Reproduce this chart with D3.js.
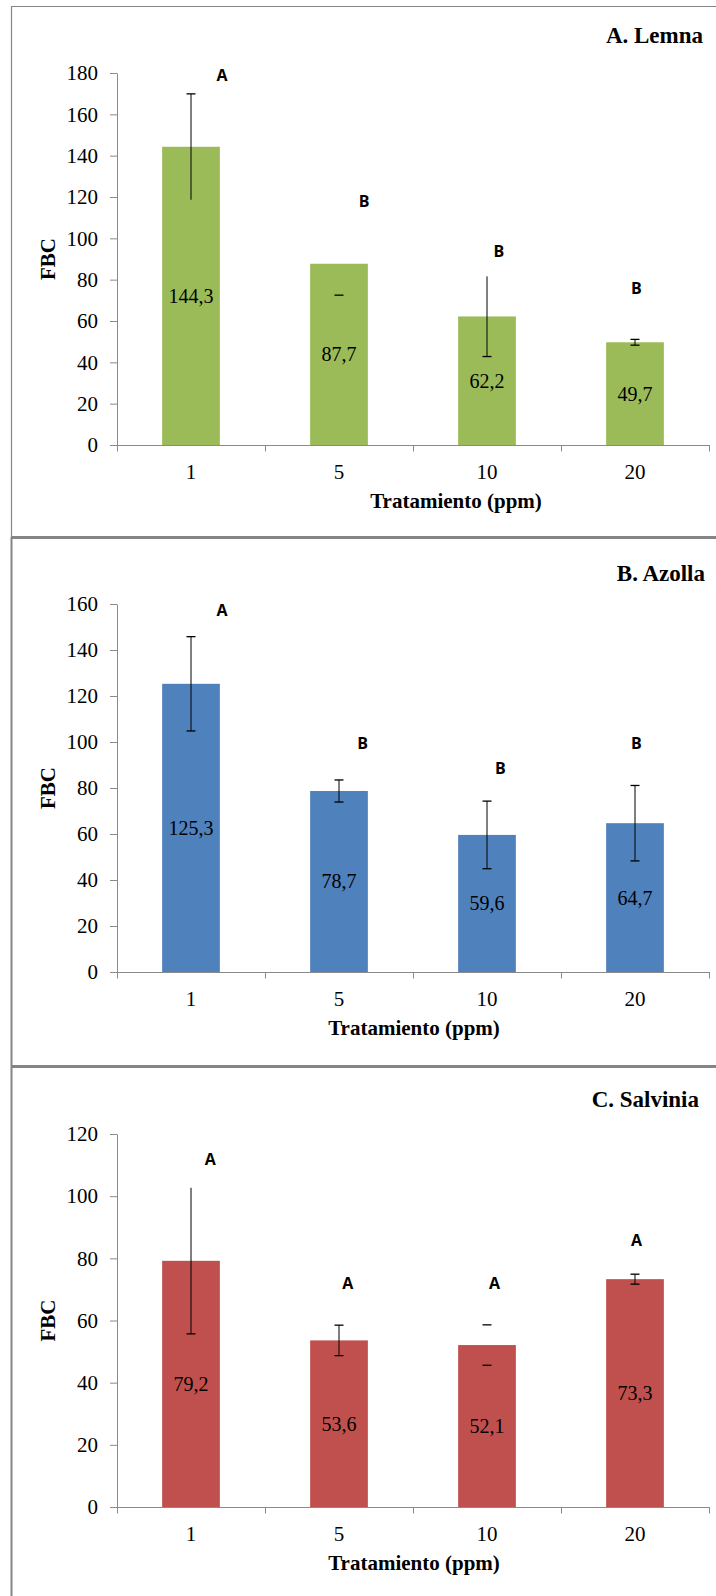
<!DOCTYPE html>
<html lang="es">
<head>
<meta charset="utf-8">
<title>FBC por tratamiento</title>
<style>
  body { margin: 0; background: #fff; }
  svg { display: block; }
</style>
<script src="https://cdn.jsdelivr.net/npm/d3@7"></script>
</head>
<body>
<svg id="fig" width="716" height="1596"></svg>
<script>
// data
var treatments = ["1", "5", "10", "20"];

var lemnaValues = [144.3, 87.7, 62.2, 49.7];
var lemnaErrors = [25.6, 15.2, 19.4, 1.4];
var lemnaLetters = ["A", "B", "B", "B"];
var lemnaTicks = [0, 20, 40, 60, 80, 100, 120, 140, 160, 180];

var azollaValues = [125.3, 78.7, 59.6, 64.7];
var azollaErrors = [20.5, 4.8, 14.7, 16.4];
var azollaLetters = ["A", "B", "B", "B"];
var azollaTicks = [0, 20, 40, 60, 80, 100, 120, 140, 160];

var salviniaValues = [79.2, 53.6, 52.1, 73.3];
var salviniaErrors = [23.5, 4.9, 6.5, 1.6];
var salviniaLetters = ["A", "A", "A", "A"];
var salviniaTicks = [0, 20, 40, 60, 80, 100, 120];

// height (in FBC units) where each significance letter sits
var lemnaLetterLevel = [176, 115, 91, 73];
var azollaLetterLevel = [155, 97, 86, 97];
var salviniaLetterLevel = [110, 70, 70, 84];

// which parts of each error bar show in the original: s = stem, t = top cap, b = bottom cap
var lemnaErrParts = ["st", "b", "sb", "stb"];
var azollaErrParts = ["stb", "stb", "stb", "stb"];
var salviniaErrParts = ["sb", "stb", "tb", "stb"];

var SERIF = '"Liberation Serif", "Times New Roman", Times, serif';
var SANS = '"Open Sans", "Noto Sans", sans-serif';

// panel layout
var panels = [
  { title: "A. Lemna", values: lemnaValues, errors: lemnaErrors, letters: lemnaLetters, ticks: lemnaTicks,
    levels: lemnaLetterLevel, parts: lemnaErrParts, letterShift: [0.21, 0.17, 0.08, 0.01],
    color: "#9bbb59", top: 73, bottom: 445, titleX: 703, titleY: 43, xTitleX: 456 },
  { title: "B. Azolla", values: azollaValues, errors: azollaErrors, letters: azollaLetters, ticks: azollaTicks,
    levels: azollaLetterLevel, parts: azollaErrParts, letterShift: [0.21, 0.16, 0.09, 0.01],
    color: "#4f81bd", top: 604, bottom: 972, titleX: 705, titleY: 581, xTitleX: 414 },
  { title: "C. Salvinia", values: salviniaValues, errors: salviniaErrors, letters: salviniaLetters, ticks: salviniaTicks,
    levels: salviniaLetterLevel, parts: salviniaErrParts, letterShift: [0.13, 0.06, 0.05, 0.01],
    color: "#c0504d", top: 1134, bottom: 1507, titleX: 699, titleY: 1107, xTitleX: 414 }
];

var svg = d3.select("#fig");
var frame = "#858585";

// frames around the three pictures
svg.append("line").attr("x1", 11).attr("x2", 716).attr("y1", 6.5).attr("y2", 6.5)
  .attr("stroke", frame).attr("stroke-width", 1.2);
svg.append("line").attr("x1", 11.5).attr("x2", 11.5).attr("y1", 6).attr("y2", 537)
  .attr("stroke", frame).attr("stroke-width", 1.2);
svg.append("line").attr("x1", 11.5).attr("x2", 11.5).attr("y1", 537).attr("y2", 1596)
  .attr("stroke", frame).attr("stroke-width", 2);
svg.append("line").attr("x1", 11).attr("x2", 716).attr("y1", 537.5).attr("y2", 537.5)
  .attr("stroke", frame).attr("stroke-width", 3);
svg.append("line").attr("x1", 11).attr("x2", 716).attr("y1", 1066.5).attr("y2", 1066.5)
  .attr("stroke", frame).attr("stroke-width", 3);

var x = d3.scaleBand().domain(treatments).range([117, 709]).padding(0);
var barW = x.bandwidth() * 0.39;

panels.forEach(function(p) {
  var y = d3.scaleLinear()
    .domain([0, d3.max(p.ticks)])
    .range([p.bottom, p.top]);

  var g = svg.append("g");

  // y axis
  var ya = g.append("g")
    .attr("transform", "translate(117,0)")
    .call(d3.axisLeft(y).tickValues(p.ticks).tickSize(7).tickSizeOuter(0).tickPadding(12));
  ya.selectAll("path, line").attr("stroke", "#8a8a8a");
  ya.selectAll("text").style("font-family", SERIF).style("font-size", "21px").attr("fill", "#000");

  // bars
  g.selectAll("rect.bar")
    .data(p.values)
    .enter().append("rect")
      .attr("class", "bar")
      .attr("x", function(d, i) { return x(treatments[i]) + (x.bandwidth() - barW) / 2; })
      .attr("width", barW)
      .attr("y", function(d) { return y(d); })
      .attr("height", function(d) { return y(0) - y(d); })
      .attr("fill", p.color);

  // x axis: baseline + band boundary ticks
  var xb = d3.scaleLinear().domain([0, treatments.length]).range([117, 709]);
  var xa = g.append("g")
    .attr("transform", "translate(0," + p.bottom + ")")
    .call(d3.axisBottom(xb).ticks(treatments.length).tickFormat("").tickSize(6.5).tickSizeOuter(0));
  xa.selectAll("path, line").attr("stroke", "#8a8a8a");
  g.append("line").attr("x1", 110).attr("x2", 117).attr("y1", p.bottom + 0.5).attr("y2", p.bottom + 0.5)
    .attr("stroke", "#8a8a8a");

  var xl = g.append("g")
    .attr("transform", "translate(0," + p.bottom + ")")
    .call(d3.axisBottom(x).tickSize(0).tickPadding(19));
  xl.select(".domain").remove();
  xl.selectAll("text").style("font-family", SERIF).style("font-size", "21px").attr("fill", "#000");

  // error bars
  p.values.forEach(function(v, i) {
    var cx = x(treatments[i]) + x.bandwidth() / 2;
    var hi = y(v + p.errors[i]), lo = y(v - p.errors[i]);
    var parts = p.parts[i];
    if (parts.indexOf("s") >= 0) {
      g.append("line").attr("x1", cx).attr("x2", cx).attr("y1", hi).attr("y2", lo)
        .attr("stroke", "#000").attr("stroke-width", 1);
    }
    if (parts.indexOf("t") >= 0) {
      g.append("line").attr("x1", cx - 4.5).attr("x2", cx + 4.5).attr("y1", hi).attr("y2", hi)
        .attr("stroke", "#000").attr("stroke-width", 1.3);
    }
    if (parts.indexOf("b") >= 0) {
      g.append("line").attr("x1", cx - 4.5).attr("x2", cx + 4.5).attr("y1", lo).attr("y2", lo)
        .attr("stroke", "#000").attr("stroke-width", 1.3);
    }
  });

  // value labels in the middle of the bars
  g.selectAll("text.vlabel")
    .data(p.values)
    .enter().append("text")
      .attr("class", "vlabel")
      .attr("x", function(d, i) { return x(treatments[i]) + x.bandwidth() / 2; })
      .attr("y", function(d) { return y(d / 2); })
      .attr("dy", "0.35em")
      .attr("text-anchor", "middle")
      .style("font-family", SERIF)
      .style("font-size", "20px")
      .text(function(d) { return d.toFixed(1).replace(".", ","); });

  // significance letters
  g.selectAll("text.letter")
    .data(p.letters)
    .enter().append("text")
      .attr("class", "letter")
      .attr("x", function(d, i) { return x(treatments[i]) + x.bandwidth() * (0.5 + p.letterShift[i]); })
      .attr("y", function(d, i) { return y(p.levels[i]); })
      .attr("text-anchor", "middle")
      .style("font-family", SANS)
      .style("font-weight", "bold")
      .style("font-size", "16px")
      .text(function(d) { return d; });

  // titles
  g.append("text")
    .attr("x", p.titleX).attr("y", p.titleY)
    .attr("text-anchor", "end")
    .style("font-family", SERIF).style("font-weight", "bold")
    .style("font-size", "23px")
    .text(p.title);

  g.append("text")
    .attr("x", p.xTitleX).attr("y", p.bottom + 63)
    .attr("text-anchor", "middle")
    .style("font-family", SERIF).style("font-weight", "bold")
    .style("font-size", "21px")
    .text("Tratamiento (ppm)");

  g.append("text")
    .attr("transform", "translate(55," + ((p.top + p.bottom) / 2) + ") rotate(-90)")
    .attr("text-anchor", "middle")
    .style("font-family", SERIF).style("font-weight", "bold")
    .style("font-size", "21px")
    .text("FBC");
});
</script>
</body>
</html>
